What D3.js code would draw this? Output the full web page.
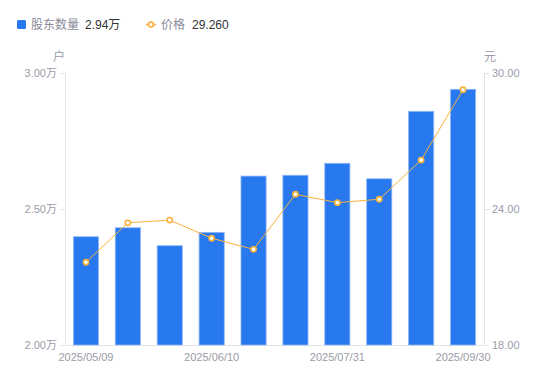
<!DOCTYPE html>
<html><head><meta charset="utf-8">
<script src="https://cdn.jsdelivr.net/npm/d3@7"></script>
<style>
html,body{margin:0;padding:0;background:#fff;}
text{font-family:"Liberation Sans","Noto Sans CJK SC",sans-serif;}
</style></head>
<body><svg id="c" width="550" height="381"></svg>
<script>
const categories = ["2025/05/09","2025/05/20","2025/05/30","2025/06/10","2025/06/20","2025/06/30","2025/07/31","2025/08/20","2025/08/31","2025/09/30"];
const holders = [2.398, 2.431, 2.365, 2.414, 2.621, 2.624, 2.668, 2.611, 2.859, 2.940]; // 万户
const prices = [21.65, 23.39, 23.51, 22.71, 22.22, 24.65, 24.28, 24.43, 26.16, 29.26];
const leftTicks = [2.0, 2.5, 3.0];
const rightTicks = [18, 24, 30];
const shownLabels = ["2025/05/09","2025/06/10","2025/07/31","2025/09/30"];

const FONT = '"Liberation Sans","Noto Sans CJK SC",sans-serif';
const svg = d3.select("#c");
const L = 65, R = 484, T = 73, B = 345;
const BAR = "#2878F0", LINE = "#F7B23E", GRID = "#E3E3E8", TXT = "#9B9BA8";

const x = d3.scaleBand().domain(categories).range([L, R]).paddingInner(0.4).paddingOuter(0.2);
const yL = d3.scaleLinear().domain([2.0, 3.0]).range([B, T]);
const yR = d3.scaleLinear().domain([18, 30]).range([B, T]);

// axes
const gl = svg.append("g").attr("transform", `translate(${L},0)`)
  .call(d3.axisLeft(yL).tickValues(leftTicks).tickSize(5).tickPadding(3).tickFormat(d => d.toFixed(2) + "万"));
const gr = svg.append("g").attr("transform", `translate(${R},0)`)
  .call(d3.axisRight(yR).tickValues(rightTicks).tickSize(5).tickPadding(3).tickFormat(d => d.toFixed(2)));
const gb = svg.append("g").attr("transform", `translate(0,${B})`)
  .call(d3.axisBottom(x).tickValues(shownLabels).tickSize(0).tickPadding(8));
[gl, gr, gb].forEach(g => {
  g.selectAll(".domain").attr("stroke", GRID).attr("stroke-width", 1);
  g.selectAll(".tick line").attr("stroke", GRID);
  g.selectAll("text").attr("fill", TXT).attr("font-size", 11).attr("font-family", FONT);
});
gb.select(".domain").attr("d", `M${L},0.5H${R}`);

// unit labels
svg.append("text").attr("x", 59).attr("y", 61).attr("text-anchor", "middle").attr("fill", TXT).attr("font-size", 12).text("户");
svg.append("text").attr("x", 490).attr("y", 61).attr("text-anchor", "middle").attr("fill", TXT).attr("font-size", 12).text("元");

// bars
svg.append("g").selectAll("rect").data(holders).join("rect")
  .attr("x", (d, i) => x(categories[i]))
  .attr("width", x.bandwidth())
  .attr("y", d => yL(d))
  .attr("height", d => B - yL(d))
  .attr("fill", BAR)
  .attr("stroke", "#8DB6F6").attr("stroke-width", 0.8);

// line
const cx = (d, i) => x(categories[i]) + x.bandwidth() / 2;
svg.append("path").datum(prices)
  .attr("d", d3.line().x(cx).y(d => yR(d)))
  .attr("fill", "none").attr("stroke", LINE).attr("stroke-width", 1);
svg.append("g").selectAll("circle").data(prices).join("circle")
  .attr("cx", cx).attr("cy", d => yR(d)).attr("r", 2.6)
  .attr("fill", "#fff").attr("stroke", LINE).attr("stroke-width", 1.6);

// legend
const lg = svg.append("g");
lg.append("rect").attr("x", 17).attr("y", 20).attr("width", 9).attr("height", 9).attr("rx", 1.5).attr("fill", BAR);
lg.append("text").attr("x", 31).attr("y", 29).attr("fill", "#8A8A99").attr("font-size", 12).text("股东数量");
lg.append("text").attr("x", 85).attr("y", 29).attr("fill", "#333").attr("font-size", 12).text(holders[holders.length-1].toFixed(2) + "万");
lg.append("line").attr("x1", 146).attr("x2", 156).attr("y1", 24.5).attr("y2", 24.5).attr("stroke", LINE).attr("stroke-width", 1.5);
lg.append("circle").attr("cx", 151).attr("cy", 24.5).attr("r", 2.5).attr("fill", "#fff").attr("stroke", LINE).attr("stroke-width", 1.6);
lg.append("text").attr("x", 161).attr("y", 29).attr("fill", "#8A8A99").attr("font-size", 12).text("价格");
lg.append("text").attr("x", 192).attr("y", 29).attr("fill", "#333").attr("font-size", 12).text(prices[prices.length-1].toFixed(3));
</script></body></html>
